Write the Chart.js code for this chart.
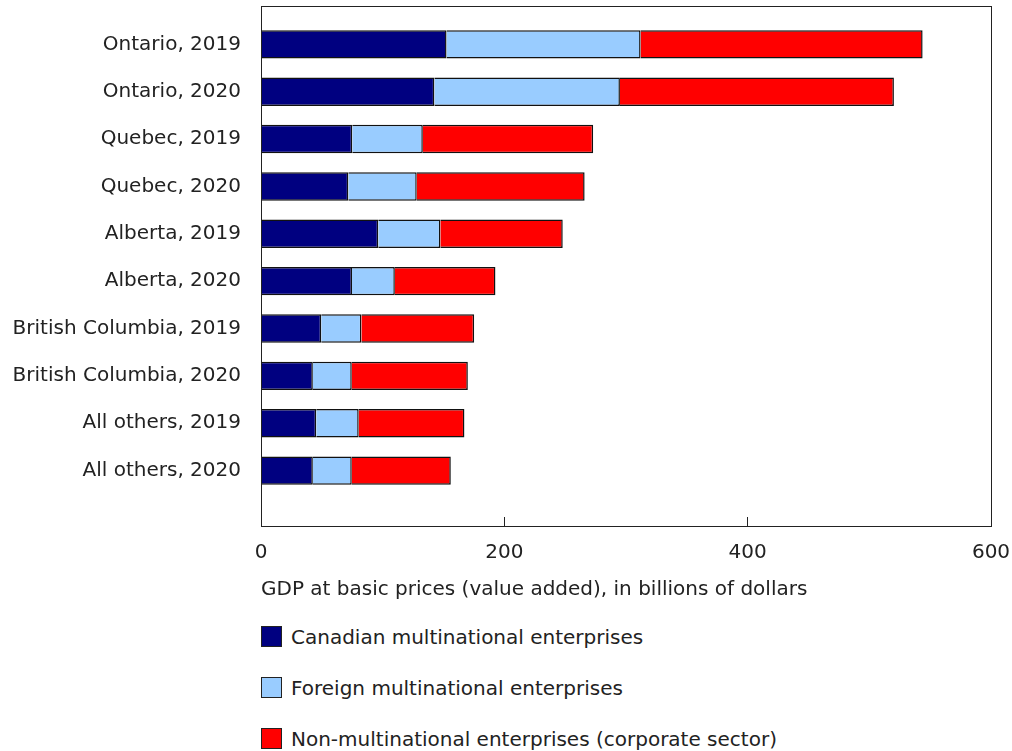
<!DOCTYPE html>
<html>
<head>
<meta charset="utf-8">
<script src="https://cdn.jsdelivr.net/npm/chart.js@4"></script>
<style>
  body { margin: 0; background: #fff; font-family: "DejaVu Sans", Verdana, sans-serif; color: #222; }
  #wrap { position: relative; width: 1012px; height: 751px; }
  #legend { position: absolute; left: 261px; top: 626px; font-size: 20px; }
  .item { display: flex; align-items: center; height: 21px; margin-bottom: 30px; }
  .box { width: 19px; height: 19px; border: 1px solid #222; margin-right: 9px; }
</style>
</head>
<body>
<div id="wrap">
  <canvas id="myChart" width="1012" height="606"></canvas>
  <div id="legend"></div>
</div>
<script>
const categories = ['Ontario, 2019', 'Ontario, 2020', 'Quebec, 2019', 'Quebec, 2020', 'Alberta, 2019',
  'Alberta, 2020', 'British Columbia, 2019', 'British Columbia, 2020', 'All others, 2019', 'All others, 2020'];
const canadian = [152.5, 142.5, 75, 71.8, 96.4, 74.8, 49.5, 42.6, 45.4, 42.6];
const foreign = [159.5, 152.5, 58, 56.2, 51, 35.2, 33, 32, 34.9, 32];
const nonMultinational = [231.8, 225.2, 140, 138, 100.6, 82.7, 92.7, 95.4, 86.9, 81.4];
const seriesNames = ['Canadian multinational enterprises', 'Foreign multinational enterprises',
  'Non-multinational enterprises (corporate sector)'];
const colors = ['#000080', '#99ccff', '#ff0000'];
const xTicks = [0, 200, 400, 600];

Chart.defaults.font.family = '"DejaVu Sans", Verdana, sans-serif';
Chart.defaults.font.size = 20;
Chart.defaults.color = '#222';

const toPoints = (arr) => arr.map((v, i) => ({ x: v, y: i }));

// box round the plot area
const frame = {
  id: 'frame',
  afterDraw(chart) {
    const { ctx, chartArea: a } = chart;
    ctx.save();
    ctx.strokeStyle = '#222';
    ctx.lineWidth = 1;
    ctx.strokeRect(Math.round(a.left) + 0.5, Math.round(a.top) + 0.5, Math.round(a.width), Math.round(a.height));
    ctx.restore();
  }
};

const ctx = document.getElementById('myChart').getContext('2d');
const chart = new Chart(ctx, {
    type: 'bar',
    data: {
        datasets: [canadian, foreign, nonMultinational].map((arr, k) => ({
            label: seriesNames[k],
            data: toPoints(arr),
            backgroundColor: colors[k],
            borderColor: '#111',
            borderWidth: 1.5,
            categoryPercentage: 1,
            barPercentage: 0.6
        }))
    },
    options: {
        indexAxis: 'y',
        responsive: false,
        animation: false,
        devicePixelRatio: 1,
        layout: { padding: { top: 6, right: 21, left: 0, bottom: 0 } },
        plugins: {
            legend: { display: false },
            tooltip: { enabled: false }
        },
        scales: {
            x: {
                stacked: true,
                min: 0,
                max: 600,
                ticks: { stepSize: 200, padding: 24, color: '#222' },
                afterBuildTicks: (s) => { s.ticks = xTicks.map(v => ({ value: v })); },
                afterFit: (s) => { s.height = 80; s.paddingLeft = 0; s.paddingRight = 0; },
                grid: {
                    drawOnChartArea: false,
                    tickLength: -9,
                    color: (c) => (c.tick && (c.tick.value === 200 || c.tick.value === 400)) ? '#222' : 'rgba(0,0,0,0)'
                },
                border: { color: '#222', width: 1 },
                title: {
                    display: true,
                    text: 'GDP at basic prices (value added), in billions of dollars',
                    align: 'start',
                    color: '#222',
                    padding: { top: 13, bottom: 4 }
                }
            },
            y: {
                type: 'linear',
                stacked: true,
                reverse: true,
                offset: false,
                min: -0.81,
                max: 10.17,
                afterFit: (s) => { s.width = 261; s.paddingTop = 0; s.paddingBottom = 0; },
                ticks: {
                    stepSize: 1,
                    includeBounds: false,
                    padding: 20,
                    color: '#222',
                    callback: (v) => categories[v] ?? ''
                },
                grid: { display: false, drawTicks: false },
                border: { color: '#222', width: 1 }
            }
        }
    },
    plugins: [frame]
});

const legend = document.getElementById('legend');
seriesNames.forEach((name, k) => {
    const row = document.createElement('div');
    row.className = 'item';
    row.innerHTML = '<span class="box" style="background:' + colors[k] + '"></span><span>' + name + '</span>';
    legend.appendChild(row);
});
</script>
</body>
</html>
